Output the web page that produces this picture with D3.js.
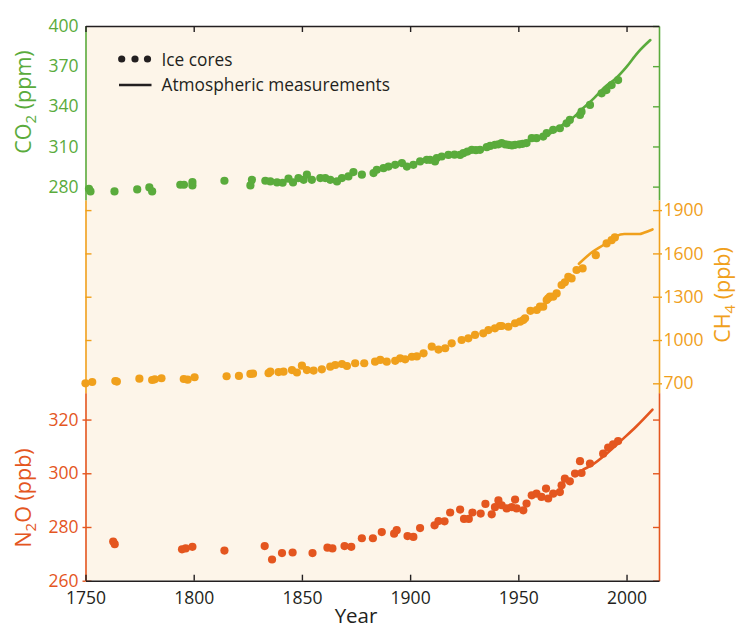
<!DOCTYPE html>
<html>
<head>
<meta charset="utf-8">
<script src="https://cdn.jsdelivr.net/npm/d3@7"></script>
<style>
  html, body { margin: 0; padding: 0; background: #ffffff; }
  svg { display: block; }
  text { font-family: 'Open Sans', 'Noto Sans', sans-serif; }
</style>
</head>
<body>
<svg id="chart" width="737" height="630"></svg>
<script>
// ---- Data -------------------------------------------------------------
// Carbon dioxide (ppm): ice-core samples
const co2IceYears = [1751.6, 1752.3, 1763.4, 1773.9, 1779.5, 1780.8, 1793.8, 1795.5, 1799.4, 1799.4,
  1814.2, 1826.2, 1826.9, 1833.1, 1835.4, 1838.5, 1841.1, 1843.8, 1845.9, 1848.4,
  1850.8, 1852.3, 1854.6, 1858.5, 1860.8, 1863.1, 1866.2, 1868.5, 1871.5, 1873.8,
  1877.7, 1883.1, 1884.6, 1887.7, 1890.0, 1893.1, 1896.2, 1898.5, 1901.5, 1904.6,
  1907.7, 1909.2, 1911.5, 1912.3, 1914.6, 1917.7, 1920.5, 1923.1, 1924.6, 1926.5,
  1928.5, 1930.4, 1932.3, 1935.4, 1937.0, 1939.2, 1940.8, 1942.3, 1944.0, 1945.4,
  1947.0, 1948.5, 1950.5, 1952.0, 1953.8, 1956.2, 1958.4, 1961.5, 1963.1, 1966.1,
  1969.2, 1972.3, 1973.8, 1978.5, 1979.2, 1983.1, 1988.5, 1990.7, 1993.1, 1996.1];
const co2IceValues = [278.4, 276.4, 276.4, 277.9, 279.4, 276.4, 281.4, 281.4, 283.4, 280.9,
  284.4, 280.9, 285.1, 284.4, 283.9, 283.1, 282.9, 285.9, 283.1, 286.4,
  285.1, 288.9, 285.1, 286.4, 286.4, 285.1, 283.9, 286.4, 287.6, 290.9,
  288.9, 290.1, 292.6, 293.8, 295.0, 296.3, 297.6, 295.0, 296.3, 298.8,
  300.0, 300.0, 298.8, 301.3, 302.5, 303.7, 303.9, 303.7, 305.0, 306.2,
  307.5, 307.2, 307.5, 309.5, 310.4, 311.2, 311.6, 312.5, 311.5, 311.2,
  310.8, 311.2, 311.6, 312.0, 312.5, 316.2, 316.2, 317.4, 319.9, 322.4,
  323.6, 327.3, 329.8, 333.5, 336.0, 341.0, 349.7, 352.1, 355.9, 359.6];
// Carbon dioxide (ppm): direct atmospheric measurements
const co2AirYears = [1958, 1960, 1965, 1970, 1975, 1980, 1985, 1990, 1995, 2000, 2005, 2011];
const co2AirValues = [315.3, 316.9, 320.0, 325.7, 331.1, 338.7, 346.1, 354.4, 360.8, 369.5, 379.8, 389.5];

// Methane (ppb): ice-core samples
const ch4IceYears = [1750.0, 1753.1, 1763.8, 1764.5, 1774.9, 1780.8, 1782.0, 1785.1, 1795.4, 1797.2,
  1800.4, 1815.2, 1820.9, 1826.2, 1827.4, 1834.6, 1835.4, 1839.2, 1841.5, 1845.4,
  1847.7, 1850.0, 1852.3, 1855.4, 1859.2, 1863.1, 1865.4, 1868.5, 1870.8, 1874.6,
  1878.8, 1883.8, 1886.2, 1889.2, 1893.1, 1895.4, 1897.7, 1900.8, 1903.1, 1906.2,
  1910.0, 1913.1, 1916.2, 1919.2, 1923.8, 1926.9, 1930.0, 1933.8, 1936.2, 1939.2,
  1941.5, 1942.3, 1945.4, 1948.5, 1950.8, 1952.3, 1953.1, 1955.6, 1958.5, 1960.0,
  1961.5, 1963.1, 1963.8, 1964.6, 1966.1, 1967.7, 1970.0, 1971.5, 1973.1, 1974.6,
  1976.9, 1979.7, 1985.8, 1990.8, 1993.1, 1994.6];
const ch4IceValues = [700, 709, 716, 712, 732, 723, 728, 735, 730, 725,
  742, 749, 751, 765, 767, 770, 781, 778, 781, 792,
  775, 822, 792, 788, 797, 815, 827, 834, 820, 839,
  839, 850, 862, 850, 856, 873, 866, 884, 886, 908,
  954, 934, 943, 977, 1000, 1012, 1035, 1046, 1069, 1081,
  1097, 1097, 1092, 1116, 1127, 1138, 1150, 1202, 1208, 1231,
  1231, 1277, 1289, 1300, 1300, 1323, 1381, 1400, 1438, 1427,
  1485, 1496, 1588, 1669, 1692, 1711];
// Methane (ppb): direct atmospheric measurements
const ch4AirYears = [1978, 1984, 1990, 1995, 1999, 2006, 2008, 2012];
const ch4AirValues = [1528, 1608, 1665, 1718, 1734, 1734, 1743, 1766];

// Nitrous oxide (ppb): ice-core samples
const n2oIceYears = [1762.8, 1763.5, 1794.6, 1796.3, 1799.4, 1814.2, 1832.8, 1836.2, 1840.8, 1845.7,
  1854.9, 1861.8, 1864.1, 1869.7, 1872.8, 1877.7, 1882.8, 1886.9, 1892.6, 1893.8,
  1898.8, 1901.5, 1904.6, 1911.3, 1913.1, 1915.9, 1918.5, 1923.1, 1924.9, 1927.1,
  1928.8, 1932.6, 1934.8, 1937.7, 1939.2, 1940.8, 1942.3, 1944.6, 1946.9, 1948.5,
  1949.2, 1952.3, 1953.8, 1956.2, 1958.4, 1960.7, 1962.8, 1963.8, 1966.1, 1969.2,
  1970.0, 1971.5, 1973.8, 1976.2, 1978.5, 1979.2, 1983.1, 1989.2, 1991.5, 1993.8, 1996.1];
const n2oIceValues = [274.6, 273.6, 271.7, 272.0, 272.6, 271.2, 272.9, 267.9, 270.3, 270.5,
  270.3, 272.3, 272.0, 272.9, 272.6, 275.8, 275.8, 278.1, 277.5, 278.8,
  276.6, 276.3, 279.6, 280.6, 282.2, 282.1, 285.4, 286.5, 283.0, 283.0,
  285.4, 285.0, 288.6, 284.7, 287.4, 289.9, 288.1, 286.9, 287.4, 290.2,
  286.9, 286.2, 288.7, 291.8, 292.4, 291.2, 294.3, 290.6, 292.4, 293.0,
  295.5, 298.0, 297.0, 299.9, 304.5, 300.1, 303.6, 307.3, 309.6, 310.8, 312.0];
// Nitrous oxide (ppb): direct atmospheric measurements
const n2oAirYears = [1980, 1984.6, 1990.8, 1998.5, 2004.6, 2012];
const n2oAirValues = [301.4, 303.4, 307.3, 312.9, 317.5, 323.7];

// Axis ticks
const yearTicks = [1750, 1800, 1850, 1900, 1950, 2000];
const co2Ticks = [280, 310, 340, 370, 400];
const ch4Ticks = [700, 1000, 1300, 1600, 1900];
const n2oTicks = [260, 280, 300, 320];

// ---- Layout -----------------------------------------------------------
const plotLeft = 85.5, plotRight = 659, plotTop = 26, plotBottom = 580.7;
const splitA = 200, splitB = 392.7;   // vertical boundaries between the three gas bands
const FONT = "'Open Sans', 'Noto Sans', sans-serif";
const tickFont = 17.5;

const colors = { co2: "#5aab3c", ch4: "#f0a01c", n2o: "#e4561f", ink: "#231f20", bg: "#fdf5e9" };

const x = d3.scaleLinear().domain([1750, 2015]).range([plotLeft, plotRight]);
const yCO2 = d3.scaleLinear().domain([270, 400]).range([splitA, plotTop]);
const yCH4 = d3.scaleLinear().domain([635, 1970]).range([splitB, splitA]);
const yN2O = d3.scaleLinear().domain([260, 330]).range([plotBottom, splitB]);

const svg = d3.select("#chart");

svg.append("rect")
  .attr("x", plotLeft).attr("y", plotTop)
  .attr("width", plotRight - plotLeft).attr("height", plotBottom - plotTop)
  .attr("fill", colors.bg);

// ---- Series -----------------------------------------------------------
function drawSeries(iceYears, iceValues, airYears, airValues, y, color) {
  const g = svg.append("g");
  const ice = iceYears.map((yr, i) => [yr, iceValues[i]]);
  const air = airYears.map((yr, i) => [yr, airValues[i]]);
  g.selectAll("circle").data(ice).join("circle")
    .attr("cx", d => x(d[0])).attr("cy", d => y(d[1]))
    .attr("r", 4.1).attr("fill", color);
  g.append("path").datum(air)
    .attr("d", d3.line().x(d => x(d[0])).y(d => y(d[1])).curve(d3.curveMonotoneX))
    .attr("fill", "none").attr("stroke", color).attr("stroke-width", 2.6)
    .attr("stroke-linejoin", "round").attr("stroke-linecap", "round");
}
drawSeries(co2IceYears, co2IceValues, co2AirYears, co2AirValues, yCO2, colors.co2);
drawSeries(ch4IceYears, ch4IceValues, ch4AirYears, ch4AirValues, yCH4, colors.ch4);
drawSeries(n2oIceYears, n2oIceValues, n2oAirYears, n2oAirValues, yN2O, colors.n2o);

// ---- Axes -------------------------------------------------------------
const fmt = d3.format("d");
function styleAxis(g, color) {
  g.attr("font-family", null).attr("font-size", null);
  g.select(".domain").attr("stroke", color).attr("stroke-width", 1.6);
  g.selectAll(".tick line").attr("stroke", color).attr("stroke-width", 1.4);
  g.selectAll(".tick text").attr("fill", color)
    .style("font-size", tickFont + "px").style("font-family", FONT);
}
function noDomain(g) { g.select(".domain").remove(); }

// CO2 band: labels on the left, inward ticks on the right
svg.append("g").attr("transform", `translate(${plotLeft},0)`)
  .call(d3.axisLeft(yCO2).tickValues(co2Ticks).tickFormat(fmt).tickSize(0).tickPadding(7).tickSizeOuter(0))
  .call(g => styleAxis(g, colors.co2));
svg.append("g").attr("transform", `translate(${plotRight},0)`)
  .call(d3.axisRight(yCO2).tickValues(co2Ticks).tickSize(-6).tickFormat("").tickSizeOuter(0))
  .call(g => styleAxis(g, colors.co2));

// CH4 band: inward ticks on the left, labels on the right
svg.append("g").attr("transform", `translate(${plotLeft},0)`)
  .call(d3.axisLeft(yCH4).tickValues(ch4Ticks).tickSize(-6).tickFormat("").tickSizeOuter(0))
  .call(g => styleAxis(g, colors.ch4));
svg.append("g").attr("transform", `translate(${plotRight},0)`)
  .call(d3.axisRight(yCH4).tickValues(ch4Ticks).tickSize(-6).tickFormat("").tickSizeOuter(0))
  .call(g => styleAxis(g, colors.ch4));
svg.append("g").attr("transform", `translate(${plotRight},0)`)
  .call(d3.axisRight(yCH4).tickValues(ch4Ticks).tickFormat(fmt).tickSize(3).tickPadding(1.5).tickSizeOuter(0))
  .call(g => styleAxis(g, colors.ch4)).call(noDomain);

// N2O band: labels on the left, inward ticks on both sides
svg.append("g").attr("transform", `translate(${plotLeft},0)`)
  .call(d3.axisLeft(yN2O).tickValues(n2oTicks).tickSize(-6).tickFormat("").tickSizeOuter(0))
  .call(g => styleAxis(g, colors.n2o));
svg.append("g").attr("transform", `translate(${plotLeft},0)`)
  .call(d3.axisLeft(yN2O).tickValues(n2oTicks).tickFormat(fmt).tickSize(3).tickPadding(4).tickSizeOuter(0))
  .call(g => styleAxis(g, colors.n2o)).call(noDomain);
svg.append("g").attr("transform", `translate(${plotRight},0)`)
  .call(d3.axisRight(yN2O).tickValues(n2oTicks).tickSize(-6).tickFormat("").tickSizeOuter(0))
  .call(g => styleAxis(g, colors.n2o));

// Year axis: labels at the bottom, inward ticks top and bottom
svg.append("g").attr("transform", `translate(0,${plotBottom})`)
  .call(d3.axisBottom(x).tickValues(yearTicks).tickFormat(fmt).tickSize(-6).tickPadding(11).tickSizeOuter(0))
  .call(g => styleAxis(g, colors.ink));
svg.append("g").attr("transform", `translate(0,${plotTop})`)
  .call(d3.axisTop(x).tickValues(yearTicks).tickFormat("").tickSize(-6).tickSizeOuter(0))
  .call(g => styleAxis(g, colors.ink));

// ---- Axis titles ------------------------------------------------------
function gasTitle(cx, cy, color, main, sub, rest) {
  const t = svg.append("text")
    .attr("transform", `translate(${cx},${cy}) rotate(-90)`)
    .attr("text-anchor", "middle")
    .attr("fill", color)
    .style("font-size", "21.5px");
  t.append("tspan").text(main);
  t.append("tspan").text(sub).style("font-size", "15px").attr("dy", 4.5);
  t.append("tspan").text(rest).attr("dy", -4.5);
}
gasTitle(31, 102, colors.co2, "CO", "2", " (ppm)");
gasTitle(730, 295, colors.ch4, "CH", "4", " (ppb)");
gasTitle(31, 498, colors.n2o, "N", "2", "O (ppb)");

svg.append("text")
  .attr("x", 356).attr("y", 623)
  .attr("text-anchor", "middle")
  .attr("fill", colors.ink)
  .style("font-size", "20.5px")
  .text("Year");

// ---- Legend -----------------------------------------------------------
const legend = svg.append("g");
legend.selectAll("circle").data([121.7, 135, 147.5]).join("circle")
  .attr("cx", d => d).attr("cy", 59).attr("r", 3.6).attr("fill", colors.ink);
legend.append("text").attr("x", 161.5).attr("y", 65.5)
  .attr("fill", colors.ink).style("font-size", "17.3px").text("Ice cores");
legend.append("line").attr("x1", 119).attr("x2", 151.5).attr("y1", 85).attr("y2", 85)
  .attr("stroke", colors.ink).attr("stroke-width", 2.6);
legend.append("text").attr("x", 161.5).attr("y", 90.5)
  .attr("fill", colors.ink).style("font-size", "17.3px").text("Atmospheric measurements");
</script>
</body>
</html>
